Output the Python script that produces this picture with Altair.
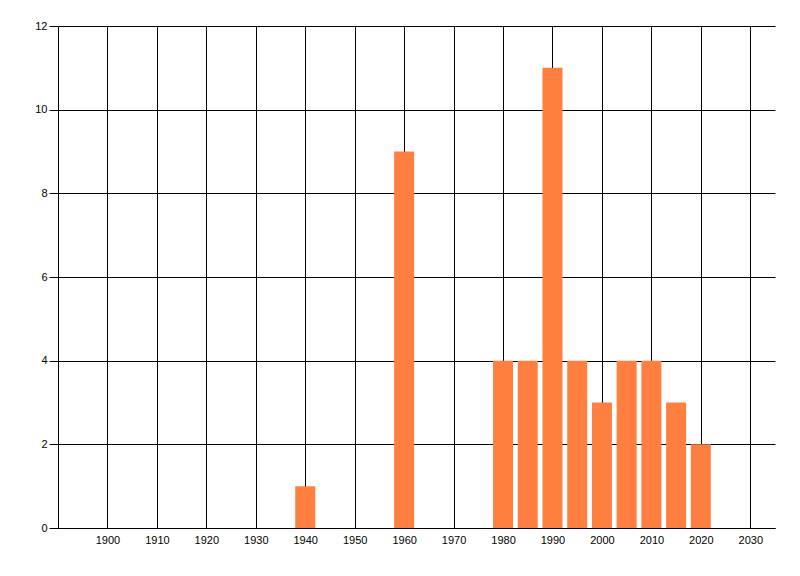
import altair as alt
import pandas as pd

years = [1940, 1960, 1980, 1985, 1990, 1995, 2000, 2005, 2010, 2015, 2020]
counts = [1, 9, 4, 4, 11, 4, 3, 4, 4, 3, 2]
x_ticks = list(range(1900, 2031, 10))
y_ticks = [0, 2, 4, 6, 8, 10, 12]

df = pd.DataFrame({"year": years, "count": counts})

chart = alt.Chart(df).mark_bar(size=20, color="#FF7F40").encode(
    x=alt.X("year:Q",
            scale=alt.Scale(domain=[1890, 2035], nice=False, zero=False, padding=0),
            axis=alt.Axis(values=x_ticks, format="d", title=None, tickSize=0,
                          labelPadding=6, grid=True, gridColor="black",
                          gridOpacity=1, domainColor="black", labelFont="Liberation Sans",
                          labelFontSize=11, labelColor="black")),
    y=alt.Y("count:Q",
            scale=alt.Scale(domain=[0, 12], nice=False, padding=0),
            axis=alt.Axis(values=y_ticks, title=None, tickSize=9, tickColor="black",
                          labelPadding=2, grid=True, gridColor="black", gridOpacity=1,
                          domainColor="black", labelFont="Liberation Sans",
                          labelFontSize=11, labelColor="black")),
).properties(
    width=717, height=502,
    autosize=alt.AutoSizeParams(type="none"),
    padding={"left": 50, "top": 18, "right": 10, "bottom": 40},
).configure_view(stroke=None).configure_axis(labelFlush=False)

chart.save("out.html", embed_options={"renderer": "svg", "actions": False})
